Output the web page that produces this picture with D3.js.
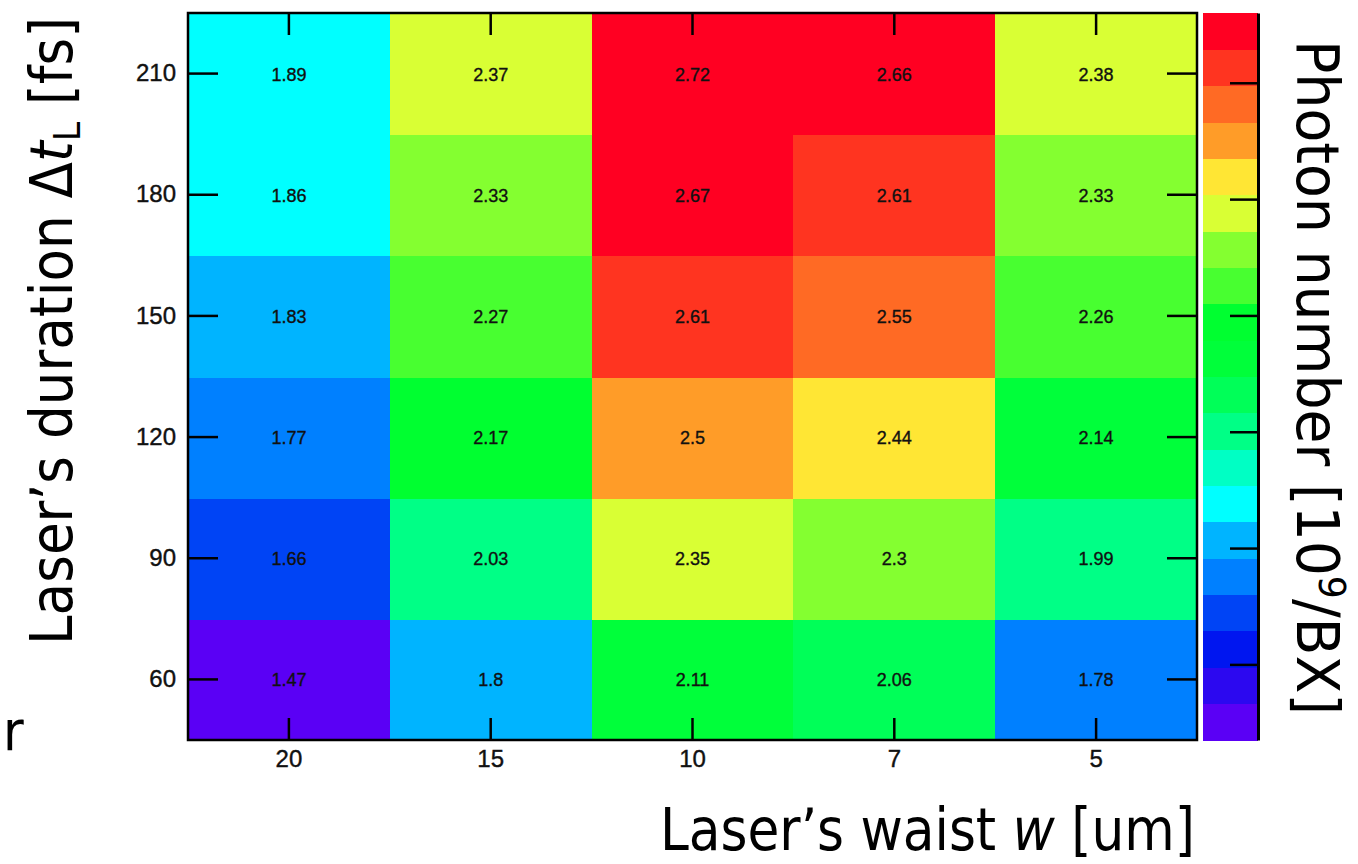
<!DOCTYPE html>
<html>
<head>
<meta charset="utf-8">
<script src="https://cdn.jsdelivr.net/npm/d3@7"></script>
<style>
  html, body { margin: 0; padding: 0; background: #fff; }
  svg { display: block; }
  .tick text { font-family: "Liberation Sans", Arial, Helvetica, sans-serif; fill: #111; }
</style>
</head>
<body>
<svg id="chart" width="1358" height="864"></svg>
<script>
// Laser waist values (columns) and laser durations (rows)
const waists = ["20", "15", "10", "7", "5"];
const durations = ["60", "90", "120", "150", "180", "210"];

// Photon number per bunch crossing [10^9/BX], one array per duration row
const photons60  = [1.47, 1.80, 2.11, 2.06, 1.78];
const photons90  = [1.66, 2.03, 2.35, 2.30, 1.99];
const photons120 = [1.77, 2.17, 2.50, 2.44, 2.14];
const photons150 = [1.83, 2.27, 2.61, 2.55, 2.26];
const photons180 = [1.86, 2.33, 2.67, 2.61, 2.33];
const photons210 = [1.89, 2.37, 2.72, 2.66, 2.38];

// Value labels printed in each cell
const labels60  = ["1.47", "1.8", "2.11", "2.06", "1.78"];
const labels90  = ["1.66", "2.03", "2.35", "2.3", "1.99"];
const labels120 = ["1.77", "2.17", "2.5", "2.44", "2.14"];
const labels150 = ["1.83", "2.27", "2.61", "2.55", "2.26"];
const labels180 = ["1.86", "2.33", "2.67", "2.61", "2.33"];
const labels210 = ["1.89", "2.37", "2.72", "2.66", "2.38"];

// Ticks on the colour bar axis
const paletteTicks = [1.6, 1.8, 2.0, 2.2, 2.4, 2.6];

// 20-step rainbow palette, lowest level first
const palette = [
  "#5a00f5", "#2c08f0", "#0016f0", "#0044f5", "#0080ff",
  "#00b4ff", "#00ffff", "#00ffc4", "#00ff86", "#00ff58",
  "#00ff3a", "#00ff30", "#48ff30", "#84ff30", "#d9ff34",
  "#ffe634", "#ff9c28", "#ff6a24", "#ff3420", "#ff0022"
];

const rowValues = [photons60, photons90, photons120, photons150, photons180, photons210];
const rowLabels = [labels60, labels90, labels120, labels150, labels180, labels210];
const cells = [];
durations.forEach((d, i) => {
  waists.forEach((w, j) => {
    cells.push({ waist: w, duration: d, value: rowValues[i][j], label: rowLabels[i][j] });
  });
});

const svg = d3.select("#chart");
const plot = { left: 188, right: 1197, top: 13, bottom: 740 };
const bar = { left: 1203, right: 1258 };

const x = d3.scaleBand().domain(waists).range([plot.left, plot.right]).padding(0);
const y = d3.scaleBand().domain(durations.slice().reverse()).range([plot.top, plot.bottom]).padding(0);

const extent = d3.extent(cells, c => c.value);
const color = d3.scaleQuantize().domain(extent).range(palette);
const zAxisScale = d3.scaleLinear().domain(extent).range([plot.bottom, plot.top]);

// Heatmap cells
svg.append("g")
  .attr("shape-rendering", "crispEdges")
  .selectAll("rect")
  .data(cells)
  .join("rect")
  .attr("x", c => x(c.waist))
  .attr("y", c => y(c.duration))
  .attr("width", x.bandwidth() + 1)
  .attr("height", y.bandwidth() + 1)
  .attr("fill", c => color(c.value));

// Cell value labels
svg.append("g")
  .selectAll("text")
  .data(cells)
  .join("text")
  .attr("x", c => x(c.waist) + x.bandwidth() / 2)
  .attr("y", c => y(c.duration) + y.bandwidth() / 2 + 1)
  .attr("text-anchor", "middle")
  .attr("dominant-baseline", "central")
  .attr("font-family", "Liberation Sans, Arial, Helvetica, sans-serif")
  .attr("font-size", 18)
  .attr("fill", "#111")
  .attr("stroke", "#111")
  .attr("stroke-width", 0.35)
  .text(c => c.label);

// Axes with inward ticks
function styleAxis(g) {
  g.select(".domain").remove();
  g.selectAll(".tick line").attr("stroke", "#000").attr("stroke-width", 2.5);
  g.selectAll(".tick text")
    .attr("font-size", 24)
    .attr("stroke", "#111")
    .attr("stroke-width", 0.4);
}

svg.append("g")
  .attr("transform", `translate(0,${plot.bottom})`)
  .call(d3.axisBottom(x).tickSize(-22).tickPadding(10))
  .call(styleAxis);

svg.append("g")
  .attr("transform", `translate(0,${plot.top})`)
  .call(d3.axisTop(x).tickSize(-22).tickFormat(""))
  .call(styleAxis);

svg.append("g")
  .attr("transform", `translate(${plot.left},0)`)
  .call(d3.axisLeft(y).tickSize(-30).tickPadding(12))
  .call(styleAxis);

svg.append("g")
  .attr("transform", `translate(${plot.right},0)`)
  .call(d3.axisRight(y).tickSize(-30).tickFormat(""))
  .call(styleAxis);

// Plot frame
svg.append("rect")
  .attr("x", plot.left)
  .attr("y", plot.top)
  .attr("width", plot.right - plot.left)
  .attr("height", plot.bottom - plot.top)
  .attr("fill", "none")
  .attr("stroke", "#000")
  .attr("stroke-width", 2.5);

// Colour bar bands
svg.append("g")
  .attr("shape-rendering", "crispEdges")
  .selectAll("rect")
  .data(palette)
  .join("rect")
  .attr("x", bar.left)
  .attr("width", bar.right - bar.left)
  .attr("y", c => zAxisScale(color.invertExtent(c)[1]))
  .attr("height", c => zAxisScale(color.invertExtent(c)[0]) - zAxisScale(color.invertExtent(c)[1]) + 0.5)
  .attr("fill", c => c);

// Colour bar axis (line on the right, ticks pointing in)
svg.append("g")
  .attr("transform", `translate(${bar.right},0)`)
  .call(d3.axisRight(zAxisScale).tickValues(paletteTicks).tickSize(-28).tickSizeOuter(0).tickFormat(""))
  .call(g => g.select(".domain").attr("stroke", "#000").attr("stroke-width", 3))
  .call(g => g.selectAll(".tick line").attr("stroke", "#000").attr("stroke-width", 2.5));

// Titles
const titleFont = "'DejaVu Sans Condensed', 'Liberation Sans Narrow', 'DejaVu Sans', sans-serif";

const xTitle = svg.append("text")
  .attr("x", 660)
  .attr("y", 850)
  .attr("font-family", titleFont)
  .attr("font-size", 58)
  .attr("fill", "#000")
  .attr("textLength", 535)
  .attr("lengthAdjust", "spacingAndGlyphs");
xTitle.append("tspan").text("Laser\u2019s waist ");
xTitle.append("tspan").attr("font-style", "italic").text("w");
xTitle.append("tspan").text(" [um]");

const yTitle = svg.append("text")
  .attr("transform", "translate(72,645) rotate(-90)")
  .attr("font-family", titleFont)
  .attr("font-size", 58)
  .attr("fill", "#000")
  .attr("textLength", 628)
  .attr("lengthAdjust", "spacingAndGlyphs");
yTitle.append("tspan").text("Laser\u2019s duration \u0394");
yTitle.append("tspan").attr("font-style", "italic").text("t");
yTitle.append("tspan").attr("font-size", 38).attr("dy", 8).text("L");
yTitle.append("tspan").attr("dy", -8).text(" [fs]");

const zTitle = svg.append("text")
  .attr("transform", "translate(1297,40) rotate(90)")
  .attr("font-family", titleFont)
  .attr("font-size", 58)
  .attr("fill", "#000")
  .attr("textLength", 675)
  .attr("lengthAdjust", "spacingAndGlyphs");
zTitle.append("tspan").text("Photon number [10");
zTitle.append("tspan").attr("font-size", 38).attr("dy", -22).text("9");
zTitle.append("tspan").attr("dy", 22).text("/BX]");

// Stray glyph at the lower left edge
svg.append("text")
  .attr("x", 3)
  .attr("y", 750)
  .attr("font-family", titleFont)
  .attr("font-size", 56)
  .attr("fill", "#000")
  .text("r");
</script>
</body>
</html>
